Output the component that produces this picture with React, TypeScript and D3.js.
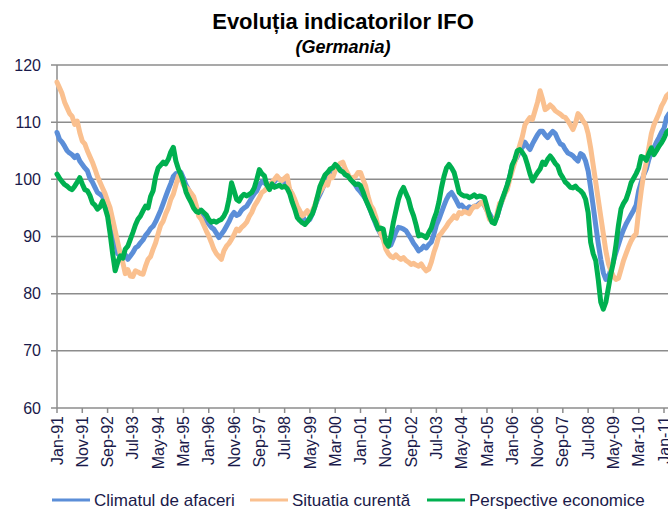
import React from 'react'
import * as d3 from 'd3'

// monthly values, Jan-91 .. Mar-11
const climat = [
  108.2, 107.0, 106.5, 105.8, 105.0, 104.6, 104.3, 103.8, 104.2, 103.2, 102.6, 102.0,
  101.5, 100.2, 99.5, 98.6, 97.7, 97.4, 97.0, 96.0, 95.0, 93.5, 91.5, 89.0,
  87.0, 86.6, 86.3, 86.8, 86.0, 86.6, 87.2, 88.0, 88.3, 88.9, 89.4, 90.2,
  90.7, 91.4, 91.8, 92.6, 93.6, 94.6, 95.8, 97.0, 98.2, 99.3, 100.5, 101.0,
  100.8, 101.2, 100.2, 99.0, 98.2, 97.2, 96.0, 95.2, 94.5, 93.8, 93.2, 92.8,
  92.2, 91.6, 91.3, 90.6, 89.8, 90.4, 91.0, 91.8, 92.6, 93.6, 94.2, 93.7,
  93.9, 94.6, 95.0, 95.3, 96.0, 96.8, 97.5, 98.0, 99.0, 99.6, 99.4, 99.0,
  99.2, 99.0, 99.6, 100.3, 100.0, 99.8, 99.5, 99.0, 98.2, 97.2, 96.0, 95.0,
  94.2, 93.6, 92.8, 92.7, 93.0, 94.0, 95.3, 96.5, 97.4, 98.4, 99.4, 100.3,
  101.0, 101.6, 102.2, 102.3, 101.7, 101.4, 100.8, 100.6, 100.2, 99.6, 99.0, 98.3,
  97.8, 97.2, 96.6, 95.6, 94.5, 93.3, 92.2, 91.2, 90.4, 89.6, 88.8, 88.3,
  88.5, 89.6, 90.8, 91.6, 91.5, 91.3, 91.0, 90.3, 89.6, 88.8, 88.2, 87.5,
  87.8, 88.3, 88.0, 88.6, 89.0, 90.4, 92.0, 93.0, 94.2, 95.4, 96.5, 97.3,
  97.7, 97.0, 96.2, 95.3, 95.5, 95.0, 94.8, 95.2, 95.0, 95.3, 95.4, 95.8,
  96.0, 95.4, 94.6, 94.0, 93.2, 92.5, 93.5, 95.0, 96.3, 97.5, 98.8, 100.5,
  102.5, 103.2, 104.0, 105.0, 105.6, 106.5, 105.8, 105.2, 106.2, 107.0, 107.8, 108.4,
  108.4, 107.8, 107.3, 107.9, 108.4, 108.0, 107.0, 106.2, 106.0, 105.2, 104.6, 104.4,
  104.1, 103.6, 103.2, 104.5, 104.2, 103.2, 101.5, 98.5, 95.3, 92.0, 88.8, 86.0,
  83.7, 82.5, 82.8, 84.3, 85.7, 87.2, 88.6, 90.0, 91.2, 92.2, 93.0, 93.8,
  94.6, 95.5, 98.0, 99.5, 100.8, 101.8, 103.5, 104.7, 105.5, 106.5, 107.3, 108.2,
  108.9, 110.8, 111.5
]

const situatia = [
  117.0, 116.0, 115.0, 113.5, 112.5, 111.5, 111.0, 109.6, 110.2, 108.2, 106.7, 106.2,
  105.0, 104.0, 103.0, 101.8, 100.5, 99.5, 98.5, 97.5, 96.2, 95.0, 93.0, 91.0,
  89.0, 87.0, 85.5, 83.5, 84.2, 83.1, 83.0, 84.0, 83.8, 83.5, 83.4, 84.8,
  86.0, 86.5, 87.8, 88.9, 90.5, 92.0, 92.7, 94.0, 95.0, 96.5, 97.4, 99.0,
  100.6, 100.0, 99.0, 98.6, 98.2, 97.6, 97.0, 95.5, 93.6, 93.0, 92.0, 91.0,
  90.1, 89.0, 87.8, 87.0, 86.5, 86.0, 87.5, 88.3, 88.8, 89.5, 90.3, 91.3,
  91.0, 91.6, 92.0, 92.5, 93.5, 94.2, 95.3, 96.0, 96.8, 97.7, 98.0, 98.5,
  98.8, 99.5, 100.0, 100.6, 100.0, 99.8, 100.2, 100.6, 98.2, 97.5, 96.5, 95.3,
  94.5, 93.6, 94.0, 94.5, 93.6, 94.5, 95.5, 97.0, 97.8, 98.5, 99.5, 99.0,
  100.6, 100.3, 101.5, 102.2, 102.8, 103.0, 101.8, 101.0, 100.0, 100.3, 100.5, 101.2,
  101.2, 100.0, 98.9, 97.0, 95.5, 94.8, 93.5, 91.8, 90.5, 89.5, 87.8, 87.0,
  86.5, 86.3, 86.8, 86.3, 86.0, 86.3, 85.8, 85.5, 85.1, 85.3, 85.0, 84.8,
  85.2, 84.5, 84.0, 84.3, 85.5, 87.2, 88.5, 90.1, 90.6, 91.2, 91.8, 92.5,
  93.0, 93.6, 93.2, 94.2, 94.0, 94.4, 94.2, 94.0, 94.8, 95.3, 95.2, 95.6,
  96.0, 95.5, 94.5, 93.0, 92.8, 92.5, 94.0, 95.8, 96.2, 97.5, 98.2, 100.0,
  101.5, 103.0, 104.5, 106.0, 107.5, 109.5, 110.2, 110.8, 110.5, 112.0, 113.5, 115.5,
  114.0, 112.2, 112.5, 113.0, 112.6, 112.0, 111.7, 111.4, 111.0, 110.8, 110.2, 109.5,
  108.7, 109.8, 111.5, 111.0, 110.2, 109.6, 108.0, 105.5, 102.5, 99.5, 96.5, 93.5,
  90.5, 87.5, 85.3, 84.0, 83.0, 82.5, 82.7, 84.2, 85.8, 87.0, 88.2, 89.2,
  90.0, 90.5, 94.5, 98.0, 101.0, 103.0, 105.5, 108.0, 109.5, 110.5, 111.5, 112.8,
  113.6, 114.6, 115.0
]

const perspective = [
  100.9, 100.2, 99.6, 99.1, 98.8, 98.4, 98.2, 98.8, 99.5, 100.3, 99.2, 98.2,
  98.0, 97.2, 95.9, 95.5, 94.8, 95.2, 96.2, 95.0, 93.5, 90.5, 87.0, 84.0,
  85.5, 86.6, 86.2, 87.8, 88.3, 89.5, 90.7, 92.0, 93.0, 93.6, 94.5, 95.3,
  95.0, 97.0, 98.0, 100.5, 102.0, 102.5, 103.0, 102.7, 103.5, 104.8, 105.6, 103.2,
  101.8, 100.8, 99.5, 97.8, 96.8, 96.0, 95.0, 94.4, 94.2, 94.6, 94.2, 93.8,
  93.0, 92.5, 92.7, 92.5, 92.8, 93.0, 93.6, 94.5, 96.5, 99.4, 98.0, 96.5,
  96.2, 97.0, 97.4, 97.1, 97.4, 97.7, 98.5, 100.0, 101.7, 101.0, 100.6, 99.0,
  98.2, 99.2, 98.6, 98.8, 99.0, 98.6, 98.8, 98.4, 97.5, 96.0, 94.8, 93.3,
  92.8, 92.4, 92.1, 92.6, 93.3, 94.0, 95.3, 97.0, 98.8, 99.8, 100.8, 101.2,
  101.8, 102.0, 102.6, 102.2, 101.5, 101.3, 100.8, 100.6, 100.0, 99.5, 99.1, 99.2,
  98.9, 97.8, 96.5, 95.5, 94.5, 93.4, 92.5, 91.3, 91.5, 91.3, 89.0, 88.3,
  90.0, 92.5, 94.5, 96.5, 97.8, 98.6, 97.5, 96.5, 94.8, 93.6, 92.0, 90.1,
  90.3, 90.1, 89.8, 90.7, 91.5, 93.0, 94.2, 96.0, 98.5, 100.5, 102.0, 102.6,
  102.0, 101.2, 99.5, 97.7, 97.3, 97.1, 97.1, 96.8, 97.0, 97.3, 96.9, 97.1,
  97.0, 96.8, 95.2, 93.6, 92.5, 92.3, 93.5, 95.1, 96.5, 97.7, 99.0, 100.5,
  102.5, 103.5, 105.0, 105.2, 104.7, 104.0, 102.6, 101.0, 99.7, 100.5, 101.2, 101.8,
  103.0, 102.6, 103.5, 104.1, 103.5, 102.8, 102.3, 101.0, 100.3, 99.5, 99.1, 98.6,
  98.5, 98.8, 98.3, 98.0, 97.5, 96.5, 94.2, 89.0, 87.0, 85.8, 82.5, 78.5,
  77.3, 78.5, 81.0, 83.5, 85.5, 88.5, 92.0, 94.8, 95.8, 96.5, 97.8, 99.4,
  100.2, 101.0, 102.0, 104.0, 103.8, 103.3, 104.5, 105.5, 104.3, 105.0, 105.8, 106.4,
  107.2, 108.2, 108.6
]

const tickLabels = [
  'Jan-91', 'Nov-91', 'Sep-92', 'Jul-93', 'May-94', 'Mar-95', 'Jan-96', 'Nov-96',
  'Sep-97', 'Jul-98', 'May-99', 'Mar-00', 'Jan-01', 'Nov-01', 'Sep-02', 'Jul-03',
  'May-04', 'Mar-05', 'Jan-06', 'Nov-06', 'Sep-07', 'Jul-08', 'May-09', 'Mar-10', 'Jan-11'
]
const yTicks = [60, 70, 80, 90, 100, 110, 120]

const seriesNames = ['Climatul de afaceri', 'Situatia curentă', 'Perspective economice']
const seriesColors = ['#5b8ed8', '#fac08f', '#00b050']

const FONT = "'Liberation Sans', Arial, sans-serif"

export default function App() {
  const width = 668, height = 511
  const x = d3.scaleLinear().domain([0, 240]).range([57, 664])
  const y = d3.scaleLinear().domain([60, 120]).range([408, 65])
  const plotRight = 700

  const line = d3.line<number>()
    .x((d, i) => x(i))
    .y(d => y(d))

  const all = [climat, situatia, perspective]

  return (
    <svg width={width} height={height} style={{ position: 'absolute', left: 0, top: 0, background: '#fff' }}
      fontFamily={FONT}>
      <text x={343} y={29} textAnchor="middle" fontSize={22} fontWeight="bold" fill="#000">Evoluția indicatorilor IFO</text>
      <text x={343} y={53} textAnchor="middle" fontSize={18} fontWeight="bold" fontStyle="italic" fill="#000">(Germania)</text>

      {yTicks.map(t => (
        <g key={t}>
          <line x1={x(0) - 6} x2={plotRight} y1={y(t)} y2={y(t)} stroke="#8c8c8c" strokeWidth={1.5} />
          <text x={41} y={y(t)} dy="0.35em" textAnchor="end" fontSize={16} fill="#1a1a4a">{t}</text>
        </g>
      ))}
      <line x1={x(0)} x2={x(0)} y1={y(120)} y2={y(60)} stroke="#8c8c8c" strokeWidth={1.5} />

      {tickLabels.map((lab, k) => {
        const xx = x(k * 10)
        return (
          <g key={lab}>
            <line x1={xx} x2={xx} y1={y(60)} y2={y(60) + 5} stroke="#8c8c8c" strokeWidth={1.5} />
            <text transform={`translate(${xx},${y(60) + 8}) rotate(-90)`} dy="0.35em" textAnchor="end"
              fontSize={16} fill="#1a1a4a">{lab}</text>
          </g>
        )
      })}

      {all.map((s, k) => (
        <path key={k} d={line(s) || ''} fill="none" stroke={seriesColors[k]} strokeWidth={5}
          strokeLinejoin="round" strokeLinecap="round" />
      ))}

      {[52, 250, 427].map((lx, k) => (
        <g key={k}>
          <line x1={lx} x2={lx + 38} y1={500} y2={500} stroke={seriesColors[k]} strokeWidth={3} />
          <text x={lx + 42} y={500} dy="0.35em" fontSize={17} fill="#1a1a4a">{seriesNames[k]}</text>
        </g>
      ))}
    </svg>
  )
}
